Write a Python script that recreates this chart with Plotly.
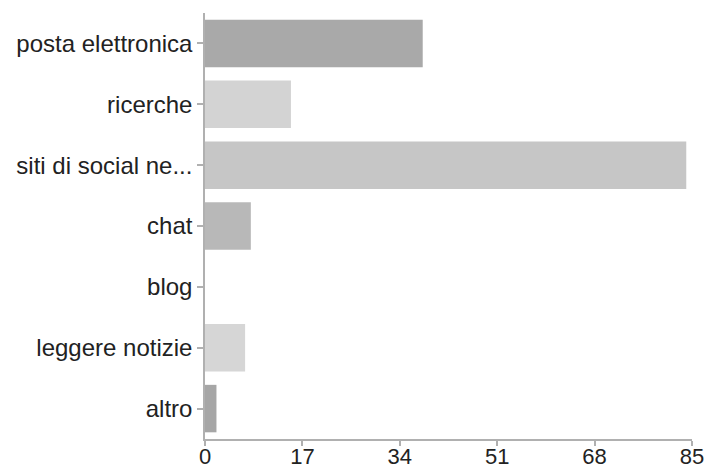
import plotly.graph_objects as go

categories = ["posta elettronica", "ricerche", "siti di social ne...", "chat", "blog", "leggere notizie", "altro"]
values = [38, 15, 84, 8, 0, 7, 2]
colors = ["#a9a9a9", "#d3d3d3", "#c6c6c6", "#b8b8b8", "#c0c0c0", "#d6d6d6", "#a6a6a6"]
tick_vals = [0, 17, 34, 51, 68, 85]

fig = go.Figure(go.Bar(
    x=values, y=categories, orientation="h",
    marker=dict(color=colors, line=dict(width=0)),
))

fig.update_layout(
    width=707, height=473,
    margin=dict(l=205, r=15, t=13, b=34),
    paper_bgcolor="white", plot_bgcolor="white",
    bargap=0.22,
    showlegend=False,
    font=dict(family="Liberation Sans, Arial, sans-serif", size=24, color="#222222"),
)
fig.update_xaxes(
    range=[0, 85], tickvals=tick_vals, showgrid=False, zeroline=False,
    showline=True, linecolor="#b0b0b0", linewidth=1.5,
    ticks="outside", ticklen=5, tickcolor="#b0b0b0", tickwidth=1.5,
    ticklabelstandoff=-8, tickfont=dict(size=22),
    automargin=False,
)
fig.update_yaxes(
    categoryorder="array", categoryarray=categories, autorange="reversed",
    showgrid=False, zeroline=False,
    showline=True, linecolor="#b0b0b0", linewidth=1.5,
    ticks="outside", ticklen=6, tickcolor="#b0b0b0", tickwidth=1.5,
    automargin=False,
)

fig.write_html("out.html")
